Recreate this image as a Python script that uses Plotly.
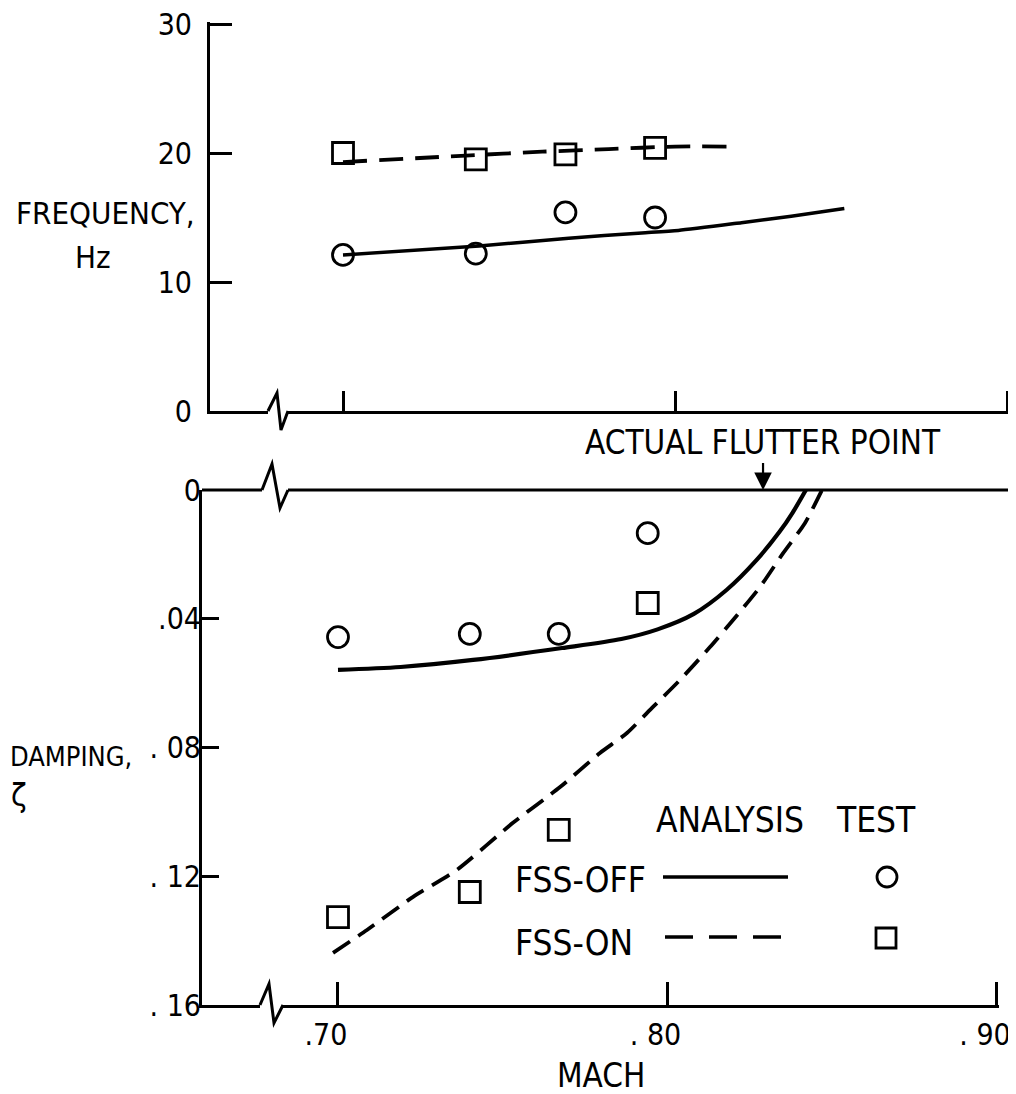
import plotly.graph_objects as go

# ---------------- data ----------------
mach_test = [0.700, 0.740, 0.767, 0.794]
freq_off_test = [12.1, 12.2, 15.4, 15.0]
freq_on_test = [20.0, 19.5, 19.9, 20.4]
damp_off_test = [0.0457, 0.0447, 0.0447, 0.0134]
damp_on_test = [0.1327, 0.1249, 0.1056, 0.0351]

mach_freq_off = [0.700, 0.741, 0.768, 0.790, 0.801, 0.820, 0.835, 0.851]
freq_off_an = [12.1, 12.8, 13.4, 13.8, 14.0, 14.6, 15.1, 15.7]
mach_freq_on = [0.700, 0.737, 0.760, 0.780, 0.800, 0.816]
freq_on_an = [19.3, 19.8, 20.1, 20.3, 20.5, 20.5]

mach_damp_off = [0.700, 0.719, 0.741, 0.768, 0.786, 0.797, 0.808, 0.818, 0.827, 0.834, 0.838, 0.842]
damp_off_an = [0.0559, 0.0550, 0.0528, 0.0491, 0.0463, 0.0433, 0.0385, 0.0310, 0.0218, 0.0130, 0.0070, 0.0]
mach_damp_on = [0.6985, 0.7088, 0.7228, 0.7361, 0.7531, 0.7674, 0.7795, 0.7877, 0.7956,
                0.8038, 0.8129, 0.8199, 0.8281, 0.8351, 0.8417, 0.8469]
damp_on_an = [0.1438, 0.1367, 0.1264, 0.1180, 0.1034, 0.0923, 0.0817, 0.0755, 0.0674,
              0.0590, 0.0488, 0.0404, 0.0301, 0.0196, 0.0103, 0.0]

mach_ticks = [0.70, 0.80, 0.90]
mach_ticktext = [".70", ". 80", ". 90"]
freq_ticks = [0, 10, 20, 30]
freq_ticktext = ["0", "10", "20", "30"]
damp_ticks = [0, 0.04, 0.08, 0.12, 0.16]
damp_ticktext = ["0", ".04", ". 08", ". 12", ". 16"]
flutter_mach = 0.829

# ---------------- style ----------------
OFF = 8                      # default page margin around the plot div
W, H = 1016 - OFF, 1094 - OFF
FONT = "Liberation Sans Narrow, DejaVu Sans Condensed, Arial Narrow, sans-serif"
BLACK = "black"


def px(x):
    return (x - OFF) / W


def py(y):
    return 1 - (y - OFF) / H


DASH = "20px,10px"
DASH_TOP = "24px,12px"
MSIZE = 21

fig = go.Figure()

# top panel
fig.add_trace(go.Scatter(x=mach_freq_off, y=freq_off_an, mode="lines", line=dict(color=BLACK, width=3.5, shape="spline", smoothing=0.6),
                         xaxis="x", yaxis="y", showlegend=False))
fig.add_trace(go.Scatter(x=mach_freq_on, y=freq_on_an, mode="lines", line=dict(color=BLACK, width=3.8, dash=DASH_TOP, shape="spline", smoothing=0.6),
                         xaxis="x", yaxis="y", showlegend=False))
fig.add_trace(go.Scatter(x=mach_test, y=freq_off_test, mode="markers",
                         marker=dict(symbol="circle-open", size=MSIZE, color=BLACK, line=dict(width=2.8, color=BLACK)),
                         xaxis="x", yaxis="y", showlegend=False))
fig.add_trace(go.Scatter(x=mach_test, y=freq_on_test, mode="markers",
                         marker=dict(symbol="square-open", size=MSIZE, color=BLACK, line=dict(width=2.8, color=BLACK)),
                         xaxis="x", yaxis="y", showlegend=False))

# bottom panel
fig.add_trace(go.Scatter(x=mach_damp_off, y=damp_off_an, mode="lines", line=dict(color=BLACK, width=4.2, shape="spline", smoothing=0.8),
                         xaxis="x2", yaxis="y2", showlegend=False))
fig.add_trace(go.Scatter(x=mach_damp_on, y=damp_on_an, mode="lines", line=dict(color=BLACK, width=3.8, dash=DASH, shape="spline", smoothing=0.6),
                         xaxis="x2", yaxis="y2", showlegend=False))
fig.add_trace(go.Scatter(x=mach_test, y=damp_off_test, mode="markers",
                         marker=dict(symbol="circle-open", size=MSIZE, color=BLACK, line=dict(width=2.8, color=BLACK)),
                         xaxis="x2", yaxis="y2", showlegend=False))
fig.add_trace(go.Scatter(x=mach_test, y=damp_on_test, mode="markers",
                         marker=dict(symbol="square-open", size=MSIZE, color=BLACK, line=dict(width=2.8, color=BLACK)),
                         xaxis="x2", yaxis="y2", showlegend=False))

axis_common = dict(showline=True, linecolor=BLACK, linewidth=3, ticks="inside", tickcolor=BLACK,
                   tickwidth=2.5, showgrid=False, zeroline=False, fixedrange=True,
                   ticklabeloverflow="allow",
                   tickfont=dict(family=FONT, size=30, color=BLACK), automargin=False)

fig.update_layout(
    width=W, height=H,
    margin=dict(l=0, r=0, t=0, b=0),
    paper_bgcolor="white", plot_bgcolor="white",
    font=dict(family=FONT, color=BLACK),
    showlegend=False,
    # ranges are padded a hair (~2 px) so the end ticks are not clipped
    xaxis=dict(domain=[px(210), px(1009)], range=[0.65994, 0.90060], anchor="y",
               tickvals=mach_ticks, ticklen=20, showticklabels=False, **axis_common),
    yaxis=dict(domain=[py(411), py(22)], range=[0, 30.155], anchor="x",
               tickvals=freq_ticks, ticktext=freq_ticktext, ticklen=22, ticklabelstandoff=9, **axis_common),
    xaxis2=dict(domain=[px(202), px(999)], range=[0.65873, 0.90061], anchor="y2",
                tickvals=mach_ticks, ticktext=mach_ticktext, ticklen=23, ticklabelstandoff=1,
                ticklabelshift=-12, **axis_common),
    yaxis2=dict(domain=[py(1005), py(490)], range=[0.16, 0], anchor="x2",
                tickvals=damp_ticks, ticktext=damp_ticktext, ticklen=17, ticklabelstandoff=-8, **axis_common),
)

ann_font = dict(family=FONT, color=BLACK)
annotations = [
    dict(text="FREQUENCY,", x=px(105), y=py(213), font=dict(size=31, **ann_font)),
    dict(text="Hz", x=px(93), y=py(257), font=dict(size=31, **ann_font)),
    dict(text="DAMPING,", x=px(71), y=py(756), font=dict(size=27, **ann_font)),
    dict(text="ζ", x=px(19), y=py(795), font=dict(size=32, **ann_font)),
    dict(text="MACH", x=px(601), y=py(1075), font=dict(size=33, **ann_font)),
    dict(text="ANALYSIS", x=px(730), y=py(820), font=dict(size=35, **ann_font)),
    dict(text="TEST", x=px(876), y=py(820), font=dict(size=35, **ann_font)),
    dict(text="FSS-OFF", x=px(513), y=py(880), xanchor="left", font=dict(size=35, **ann_font)),
    dict(text="FSS-ON", x=px(513), y=py(943), xanchor="left", font=dict(size=35, **ann_font)),
]
for a in annotations:
    a.update(xref="paper", yref="paper", showarrow=False, yanchor=a.get("yanchor", "middle"),
             xanchor=a.get("xanchor", "center"))
annotations.append(dict(text="ACTUAL FLUTTER POINT", x=flutter_mach, y=0, xref="x2", yref="y2",
                        showarrow=True, arrowhead=2, arrowsize=1.6, arrowwidth=2.2, arrowcolor=BLACK,
                        ax=0, ay=-48, standoff=0, font=dict(size=33, **ann_font)))
fig.update_layout(annotations=annotations)

shapes = []
# zero line of damping panel (extends past the right tick)
shapes.append(dict(type="line", xref="paper", yref="paper", x0=px(202), x1=px(1012), y0=py(490), y1=py(490),
                   line=dict(color=BLACK, width=3)))
# axis break symbols
for (ya, pts) in [
    (411, [(268, 411), (277, 393), (281, 430), (288, 411)]),
    (490, [(262, 490), (272, 464), (280, 508), (288, 490)]),
    (1005, [(260, 1005), (269, 984), (274, 1023), (283, 1005)]),
]:
    shapes.append(dict(type="line", xref="paper", yref="paper", x0=px(pts[0][0]), x1=px(pts[-1][0]),
                       y0=py(ya), y1=py(ya), line=dict(color="white", width=6), layer="above"))
    path = "M " + " L ".join(f"{px(x):.5f},{py(y):.5f}" for x, y in pts)
    shapes.append(dict(type="path", xref="paper", yref="paper", path=path,
                       line=dict(color=BLACK, width=3), layer="above"))
# legend samples
shapes.append(dict(type="line", xref="paper", yref="paper", x0=px(663), x1=px(788), y0=py(877), y1=py(877),
                   line=dict(color=BLACK, width=3.5)))
shapes.append(dict(type="line", xref="paper", yref="paper", x0=px(665), x1=px(783), y0=py(937), y1=py(937),
                   line=dict(color=BLACK, width=3.5, dash="28px,16px")))
shapes.append(dict(type="circle", xref="paper", yref="paper", x0=px(877), x1=px(897), y0=py(867), y1=py(887),
                   line=dict(color=BLACK, width=2.8)))
shapes.append(dict(type="rect", xref="paper", yref="paper", x0=px(876), x1=px(896), y0=py(928), y1=py(948),
                   line=dict(color=BLACK, width=2.8)))
fig.update_layout(shapes=shapes)

fig.write_html("out.html")
